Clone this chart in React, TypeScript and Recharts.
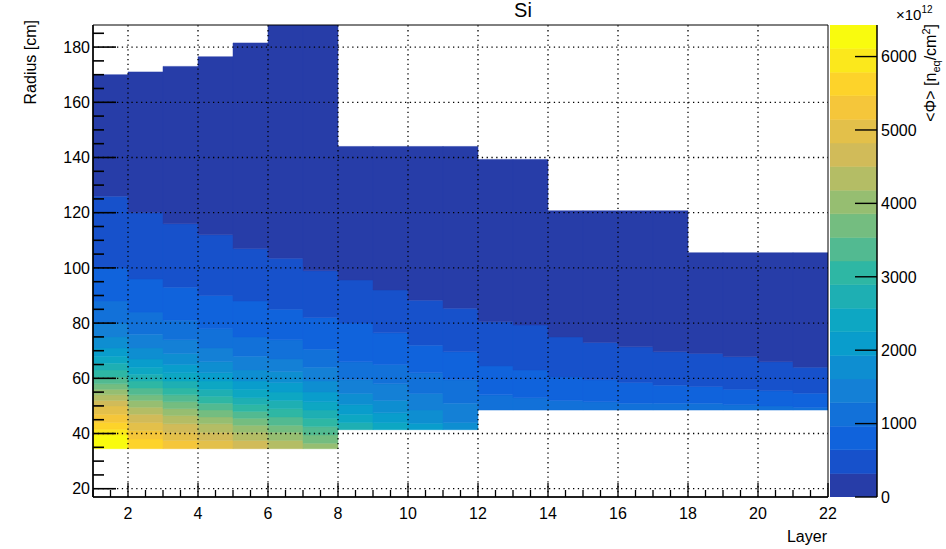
import React from 'react';
import { ComposedChart, XAxis, YAxis, ReferenceArea, ReferenceLine } from 'recharts';

const FONT = '"Liberation Sans", Arial, Helvetica, sans-serif';

// ---- data ----
const layers = [1, 2, 3, 4, 5, 6, 7, 8, 9, 10, 11, 12, 13, 14, 15, 16, 17, 18, 19, 20, 21];
// inner radius of each layer [cm]
const layerBottom = [34.5, 34.5, 34.5, 34.5, 34.5, 34.5, 34.5, 41.4, 41.4, 41.4, 41.4, 48.5, 48.5, 48.5, 48.5, 48.5, 48.5, 48.5, 48.5, 48.5, 48.5];
// outer radius of each layer [cm]
const layerTop = [170, 171, 173, 176.5, 181.5, 192, 192, 144, 144, 144, 144, 139.3, 139.3, 120.7, 120.7, 120.7, 120.7, 105.5, 105.5, 105.5, 105.5];
// radii [cm] where the fluence drops by one colour level (bottom -> top)
const bandEdges = [
  [39.5, 41.5, 44, 47, 50, 52, 54, 56, 58, 60.5, 63, 65.5, 68, 71, 75, 80, 88, 100, 126],
  [38, 41, 44, 47, 49.5, 52, 54, 56.5, 59, 61.5, 64, 67, 71, 76, 84, 96, 120],
  [37.5, 40.5, 43.5, 46.5, 49, 51.5, 54, 56.5, 59, 62, 65, 69, 74, 81, 93, 116],
  [37.5, 40.5, 43.5, 46, 48.5, 51, 53.5, 56, 59, 62, 66, 71, 78, 90, 112],
  [37.5, 40.5, 43, 45.5, 48, 50.5, 53, 56, 59, 63, 68, 75, 88, 107],
  [37.5, 40.5, 43, 46, 49, 52, 55, 58.5, 62.5, 67, 74, 85, 103.5],
  [36.5, 39.5, 42.5, 45.5, 48.5, 51.5, 55, 59, 64, 70.5, 82, 99],
  [44, 47, 50.5, 54.5, 59.5, 66, 80, 95.6],
  [44, 47.5, 52, 58, 65, 76.5, 92],
  [43.7, 48.5, 54.5, 62, 72, 88.3],
  [44, 51, 59.5, 69.6, 85.4],
  [54, 64.5, 80.5],
  [53, 63, 79.3],
  [52, 60.5, 75],
  [51.5, 59.5, 73],
  [51, 58.5, 71.4],
  [51, 57.5, 69.6],
  [51, 57, 69],
  [50.5, 56, 67.8],
  [50, 55.5, 66],
  [49.5, 54.6, 64],
];

const Z_MAX = 6430; // x 10^12
const N_LEVELS = 20;
const colorbarTicks = [0, 1000, 2000, 3000, 4000, 5000, 6000];
const xGridValues = [2, 4, 6, 8, 10, 12, 14, 16, 18, 20];
const yGridValues = [20, 40, 60, 80, 100, 120, 140, 160, 180];
const xTicks = Array.from({ length: 43 }, (_, i) => 1 + i * 0.5);
const yTicks = Array.from({ length: 34 }, (_, i) => 20 + i * 5);

// ---- ROOT kBird palette ----
const birdStops = [0.0, 0.125, 0.25, 0.375, 0.5, 0.625, 0.75, 0.875, 1.0];
const birdR = [0.2082, 0.0592, 0.078, 0.0232, 0.1802, 0.5301, 0.8186, 0.9956, 0.9764];
const birdG = [0.1664, 0.3599, 0.5041, 0.6419, 0.7178, 0.7492, 0.7328, 0.7862, 0.9832];
const birdB = [0.5293, 0.8684, 0.8385, 0.7914, 0.6425, 0.4662, 0.3499, 0.1968, 0.0539];

function birdColor(pos: number): string {
  let i = 0;
  while (i < birdStops.length - 2 && pos > birdStops[i + 1]) i++;
  const t = (pos - birdStops[i]) / (birdStops[i + 1] - birdStops[i]);
  const c = (a: number[]) => Math.round(255 * (a[i] + (a[i + 1] - a[i]) * t));
  return `rgb(${c(birdR)},${c(birdG)},${c(birdB)})`;
}
const levelStep = Z_MAX / N_LEVELS;
function levelColor(k: number): string {
  const idx = Math.floor((k + 0.99) * 255 / N_LEVELS);
  return birdColor(idx / 254);
}
function fluenceColor(v: number): string {
  return levelColor(Math.min(N_LEVELS - 1, Math.floor(v / levelStep)));
}

type Cell = { layer: number; r0: number; r1: number; fluence: number };
const cells: Cell[] = [];
layers.forEach((layer, i) => {
  const edges = bandEdges[i];
  const bounds = [layerBottom[i], ...edges, layerTop[i]];
  for (let j = 0; j < bounds.length - 1; j++) {
    const level = edges.length - j;
    cells.push({ layer, r0: bounds[j], r1: bounds[j + 1], fluence: (level + 0.5) * levelStep });
  }
});
const colorbarLevels = Array.from({ length: N_LEVELS }, (_, k) => k);

const XTick = (props: any) => {
  const { x, y, payload } = props;
  const v = payload.value;
  const major = v % 2 === 0;
  return (
    <g>
      <line x1={x} x2={x} y1={y} y2={y - (major ? 14 : 7)} stroke="#000" strokeWidth={1.3} />
      {major && (
        <text x={x} y={y + 22} textAnchor="middle" fontSize={16} fill="#000" fontFamily={FONT}>{v}</text>
      )}
    </g>
  );
};

const YTick = (props: any) => {
  const { x, y, payload } = props;
  const v = payload.value;
  const major = v % 20 === 0;
  return (
    <g>
      <line x1={x} x2={x + (major ? 23 : 11)} y1={y} y2={y} stroke="#000" strokeWidth={1.6} />
      {major && (
        <text x={x - 3} y={y} dy="0.36em" textAnchor="end" fontSize={16} fill="#000" fontFamily={FONT}>{v}</text>
      )}
    </g>
  );
};

const ZTick = (props: any) => {
  const { x, y, payload } = props;
  return (
    <g>
      <line x1={x - 22} x2={x} y1={y} y2={y} stroke="#000" strokeWidth={1.4} />
      <text x={x + 4} y={y} dy="0.36em" textAnchor="start" fontSize={16} fill="#000" fontFamily={FONT}>{payload.value}</text>
    </g>
  );
};

export default function App() {
  return (
    <div style={{ position: 'absolute', left: 0, top: 0, width: 946, height: 549, background: '#fff', fontFamily: FONT }}>
      <div style={{ position: 'absolute', left: 0, top: 0 }}>
        <ComposedChart width={946} height={549} data={cells} margin={{ top: 25, right: 118, bottom: 0, left: 0 }}>
          <XAxis type="number" dataKey="layer" domain={[1, 22]} allowDataOverflow ticks={xTicks} interval={0}
            tickSize={0} tickMargin={0} tickLine={false} tick={<XTick />} height={52}
            axisLine={{ stroke: '#000', strokeWidth: 1.5 }} />
          <YAxis type="number" dataKey="r0" domain={[17, 188]} allowDataOverflow ticks={yTicks} interval={0}
            tickSize={0} tickMargin={0} tickLine={false} tick={<YTick />} width={93}
            axisLine={{ stroke: '#000', strokeWidth: 1.5 }} />
          {cells.map((c, i) => (
            <ReferenceArea key={`c${i}`} x1={c.layer} x2={c.layer + 1} y1={c.r0} y2={c.r1}
              fill={fluenceColor(c.fluence)} fillOpacity={1} stroke={fluenceColor(c.fluence)} strokeWidth={0.5}
              ifOverflow="hidden" />
          ))}
          <ReferenceArea x1={1} x2={22} y1={17} y2={188} fill="none" fillOpacity={0} stroke="#000" strokeWidth={1} ifOverflow="visible" />
          {xGridValues.map((v) => (
            <ReferenceLine key={`gx${v}`} x={v} stroke="#000" strokeWidth={1.3} strokeDasharray="1.3 3.5" />
          ))}
          {yGridValues.map((v) => (
            <ReferenceLine key={`gy${v}`} y={v} stroke="#000" strokeWidth={1.3} strokeDasharray="1.3 3.5" />
          ))}
        </ComposedChart>
      </div>
      <div style={{ position: 'absolute', left: 830, top: 0 }}>
        <ComposedChart width={116} height={549} data={colorbarLevels.map((k) => ({ k, z: k * levelStep }))}
          margin={{ top: 25, right: 0, bottom: 52, left: 0 }}>
          <XAxis type="number" dataKey="k" domain={[0, 1]} allowDataOverflow hide />
          <YAxis type="number" dataKey="z" orientation="right" domain={[0, Z_MAX]} allowDataOverflow
            ticks={colorbarTicks} interval={0} tickSize={0} tickMargin={0} tickLine={false}
            tick={<ZTick />} width={69} axisLine={{ stroke: '#000', strokeWidth: 1.5 }} />
          {colorbarLevels.map((k) => (
            <ReferenceArea key={`z${k}`} x1={0} x2={1} y1={k * levelStep} y2={(k + 1) * levelStep}
              fill={levelColor(k)} fillOpacity={1} stroke={levelColor(k)} strokeWidth={0.5} ifOverflow="hidden" />
          ))}
        </ComposedChart>
      </div>
      <svg width={946} height={549} style={{ position: 'absolute', left: 0, top: 0, pointerEvents: 'none' }}>
        <text x={523} y={17} textAnchor="middle" fontSize={20} fontFamily={FONT} fill="#000">Si</text>
        <text x={827} y={542} textAnchor="end" fontSize={16} fontFamily={FONT} fill="#000">Layer</text>
        <text transform="translate(36,20) rotate(-90)" textAnchor="end" fontSize={16} fontFamily={FONT} fill="#000">Radius [cm]</text>
        <text x={896} y={20} fontSize={15} fontFamily={FONT} fill="#000">
          ×10<tspan fontSize={10} dy={-7}>12</tspan>
        </text>
        <text transform="translate(936,24) rotate(-90)" textAnchor="end" fontSize={16} fontFamily={FONT} fill="#000">
          {'<Φ> [n'}<tspan fontSize={11} dy={4}>eq</tspan><tspan dy={-4}>{'/cm'}</tspan><tspan fontSize={11} dy={-6}>2</tspan><tspan dy={6}>]</tspan>
        </text>
      </svg>
    </div>
  );
}
